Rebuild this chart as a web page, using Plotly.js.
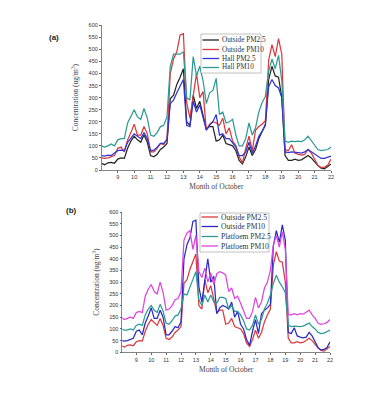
<!DOCTYPE html>
<html>
<head>
<meta charset="utf-8">
<script src="https://cdn.plot.ly/plotly-3.0.1.min.js"></script>
<style>html,body{margin:0;padding:0;background:#fff;}#chart{width:378px;height:400px;}</style>
</head>
<body>
<div id="chart"></div>
<script>
// Time in days of October
const days = [8.0,8.2,8.4,8.6,8.8,9.0,9.2,9.4,9.6,9.8,10.0,10.2,10.4,10.6,10.8,11.0,11.2,11.4,11.6,11.8,
  12.0,12.2,12.4,12.6,12.8,13.0,13.2,13.4,13.6,13.8,14.0,14.2,14.4,14.6,14.8,15.0,15.2,15.4,15.6,15.8,
  16.0,16.2,16.4,16.6,16.8,17.0,17.2,17.4,17.6,17.8,18.0,18.2,18.4,18.6,18.8,19.0,19.2,19.4,19.6,19.8,
  20.0,20.2,20.4,20.6,20.8,21.0,21.2,21.4,21.6,21.8,22.0];

const outsidePM25 = [28,22,30,32,28,45,50,48,90,120,140,125,115,145,115,60,55,65,85,95,
  110,295,310,355,385,420,200,185,310,255,285,220,170,180,180,120,125,145,110,105,
  100,80,40,25,55,95,60,85,130,160,185,375,430,390,385,300,60,40,40,45,
  40,42,50,60,50,35,18,8,5,15,25];

const outsidePM10 = [50,48,50,55,60,90,95,75,125,155,190,145,145,180,150,75,75,90,110,105,
  130,400,460,490,560,565,280,215,310,400,300,325,165,190,200,195,185,215,150,175,
  120,100,55,30,90,140,80,165,180,190,205,455,520,470,545,480,85,80,105,70,
  65,62,65,85,70,45,20,10,12,20,45];

const hallPM25 = [60,58,62,60,70,80,82,80,115,135,150,140,130,155,130,80,82,95,110,110,
  125,275,290,320,345,375,185,180,285,240,270,220,165,185,200,230,145,150,130,130,
  110,95,60,60,75,115,70,100,140,160,190,345,375,350,340,300,75,72,75,72,
  72,70,75,85,75,65,55,48,48,52,58];

const hallPM10 = [100,95,100,108,100,125,130,130,195,225,250,220,210,255,215,145,140,155,180,185,
  220,430,480,480,480,490,300,290,470,390,430,370,275,320,330,380,230,240,195,200,
  210,145,100,100,130,195,145,175,240,280,305,410,460,420,475,370,120,115,120,118,
  120,118,125,140,120,100,85,80,82,85,95];

const platformPM25 = [100,95,95,100,95,115,120,115,160,185,200,180,170,205,175,125,120,135,155,160,
  185,250,245,280,310,345,225,200,245,215,245,215,210,235,235,230,185,200,175,175,
  160,135,100,95,115,160,120,140,185,210,245,295,330,300,280,255,115,110,112,110,
  110,112,118,125,110,100,85,80,82,88,95];

const platformPM10 = [150,140,145,150,145,170,175,170,240,270,290,260,250,300,255,180,185,200,225,230,
  260,480,510,520,440,500,345,320,360,300,340,290,335,345,340,330,260,275,230,240,
  210,180,145,145,175,235,190,215,275,300,350,460,500,450,515,440,160,160,165,160,
  165,163,170,180,160,145,125,120,122,128,140];

const xTicks = [9,10,11,12,13,14,15,16,17,18,19,20,21,22];
const namesA = ['Outside PM2.5','Outside PM10','Hall PM2.5','Hall PM10'];
const namesB = ['Outside PM2.5','Outside PM10','Platfoem PM2.5','Platfoem PM10'];
const colorsA = ['#262626','#d93a3f','#3434d2','#2e9a94'];
const colorsB = ['#d93a3f','#2b2bc4','#2e9a94','#dc45e0'];

const seriesA = [outsidePM25, outsidePM10, hallPM25, hallPM10];
const seriesB = [outsidePM25, outsidePM10, platformPM25, platformPM10];

const W = 378, H = 400;
const px = x => x / W, py = y => 1 - y / H;

const traces = [];
seriesA.forEach((s, i) => traces.push({x: days, y: s, type: 'scatter', mode: 'lines', name: namesA[i],
  line: {color: colorsA[i], width: 1.25}, xaxis: 'x', yaxis: 'y', showlegend: false}));
seriesB.forEach((s, i) => traces.push({x: days, y: s, type: 'scatter', mode: 'lines', name: namesB[i],
  line: {color: colorsB[i], width: 1.25}, xaxis: 'x2', yaxis: 'y2', showlegend: false}));

const tickFont = {family: 'Liberation Sans, Arial, sans-serif', size: 5.5, color: '#333'};
const titleFont = {family: 'Liberation Serif, Times New Roman, serif', size: 7.5, color: '#444'};

function xa(domain, r, anchor) {
  return {domain: domain, range: r, anchor: anchor, tickvals: xTicks, ticktext: xTicks.map(String),
    showgrid: false, zeroline: false, showline: true, linecolor: '#666', linewidth: 0.8,
    ticks: 'outside', ticklen: 2, tickcolor: '#666', tickfont: tickFont,
    title: {text: 'Month of October', font: titleFont, standoff: 4}};
}
function ya(domain, anchor) {
  return {domain: domain, range: [0, 600], anchor: anchor, dtick: 50, tick0: 0,
    showgrid: false, zeroline: false, showline: true, linecolor: '#666', linewidth: 0.8,
    ticks: 'outside', ticklen: 2, tickcolor: '#666', tickfont: tickFont,
    title: {text: 'Concentration (ug/m<sup>3</sup>)', font: titleFont, standoff: 8}};
}

// manual legends
const shapes = [], annotations = [];
function legend(x0, y0, x1, y1, ys, names, colors, fsize) {
  shapes.push({type: 'rect', xref: 'paper', yref: 'paper', x0: px(x0), x1: px(x1), y0: py(y0), y1: py(y1),
    line: {color: '#999', width: 0.6}, fillcolor: 'rgba(255,255,255,1)'});
  names.forEach((n, i) => {
    shapes.push({type: 'line', xref: 'paper', yref: 'paper', x0: px(x0 + 1.5), x1: px(x0 + 18), y0: py(ys[i]), y1: py(ys[i]),
      line: {color: colors[i], width: 1.3}});
    annotations.push({xref: 'paper', yref: 'paper', x: px(x0 + 19), y: py(ys[i]), xanchor: 'left', yanchor: 'middle',
      text: n, showarrow: false, font: {family: 'Liberation Serif, Times New Roman, serif', size: fsize, color: '#333'}});
  });
}
legend(201, 34, 261, 73, [40, 49.5, 58.5, 67.5], namesA, colorsA, 7.2);
legend(200, 213, 269, 252, [217, 226.5, 236.5, 246], namesB, colorsB, 7.6);

annotations.push({xref: 'paper', yref: 'paper', x: px(47), y: py(31), text: '<b>(a)</b>', showarrow: false,
  font: {family: 'Liberation Sans, Arial, sans-serif', size: 8, color: '#222'}});
annotations.push({xref: 'paper', yref: 'paper', x: px(64), y: py(210), text: '<b>(b)</b>', showarrow: false,
  font: {family: 'Liberation Sans, Arial, sans-serif', size: 8, color: '#222'}});

const layout = {
  width: W, height: H, margin: {l: 0, r: 0, t: 0, b: 0}, paper_bgcolor: '#fff', plot_bgcolor: '#fff',
  showlegend: false,
  xaxis: xa([101.7 / W, 331 / W], [8.02, 22], 'y'),
  yaxis: ya([1 - 170 / H, 1 - 25.3 / H], 'x'),
  xaxis2: xa([122.3 / W, 330 / W], [8.06, 22], 'y2'),
  yaxis2: ya([1 - 352.3 / H, 1 - 212 / H], 'x2'),
  shapes: shapes, annotations: annotations
};

Plotly.newPlot('chart', traces, layout, {staticPlot: true, displayModeBar: false});
</script>
</body>
</html>
